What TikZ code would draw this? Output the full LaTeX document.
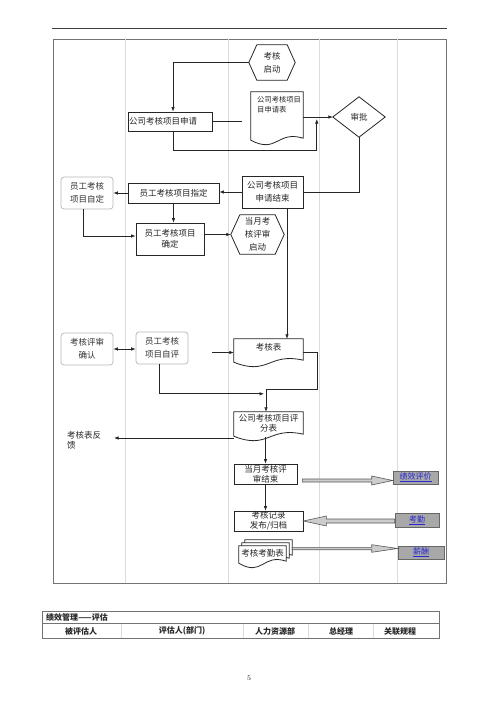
\documentclass[tikz,border=0pt]{standalone}
\usepackage{fontspec}
\newfontfamily\cjk{Noto Sans CJK SC}
\usetikzlibrary{arrows.meta,calc}
\definecolor{lanegray}{gray}{0.86}
\definecolor{softgray}{gray}{0.72}
\definecolor{linkfill}{gray}{0.66}
\definecolor{arrfill}{gray}{0.80}
\definecolor{linkblue}{RGB}{40,40,210}
\newcommand\fs[2]{\fontsize{#1}{#2}\selectfont}
\newcommand\hexdraw[2]{\draw[shapeline] (#1.west) -- ($(#1.north west)+(#2,0)$) -- ($(#1.north east)+(-#2,0)$) -- (#1.east) -- ($(#1.south east)+(-#2,0)$) -- ($(#1.south west)+(#2,0)$) -- cycle;}
\newcommand\diadraw[1]{\draw[shapeline] (#1.west) -- (#1.north) -- (#1.east) -- (#1.south) -- cycle;}
\newcommand\docdraw[3]{\filldraw[shapeline,fill=white] ($(#1.south west)+(#2,#3)+(0,-4)$) -- ($(#1.north west)+(#2,#3)$) -- ($(#1.north east)+(#2,#3)$) -- ($(#1.south east)+(#2,#3)+(0,-6)$) .. controls ($(#1.south)+(#2,#3)+(0,-14)$) and ($(#1.south)+(#2,#3)+(0,10)$) .. ($(#1.south west)+(#2,#3)+(0,-4)$) -- cycle;}
\newcommand\blockarrow[5]{\path[blockarr] let \p1=(#1), \p2=(#2) in ({\x1},{\y1+#4}) -- ({\x2-(#3)},{\y1+#4}) -- ({\x2-(#3)},{\y1+#5}) -- ({\x2},{\y1}) -- ({\x2-(#3)},{\y1-#5}) -- ({\x2-(#3)},{\y1-#4}) -- ({\x1},{\y1-#4}) -- cycle;}
\tikzset{
  shapeline/.style={draw=black!85, line width=0.8pt},
  boxnode/.style={draw=black!85, line width=0.8pt, inner sep=0pt, align=center, text=black!85, font=\cjk\fs{8.5}{13}},
  softnode/.style={draw=softgray, line width=0.7pt, rounded corners=3pt, inner sep=0pt, align=center, text=black!80, font=\cjk\fs{8.5}{13}},
  txtnode/.style={inner sep=0pt, align=center, text=black!85, font=\cjk\fs{8.5}{13}},
  shapeholder/.style={inner sep=0pt},
  conn/.style={draw=black!85, line width=0.7pt},
  arr/.style={conn, -{Latex[length=4.5pt,width=3.5pt]}},
  dblarr/.style={conn, {Latex[length=4.5pt,width=3.5pt]}-{Latex[length=4.5pt,width=3.5pt]}},
  blockarr/.style={draw=black!65, fill=arrfill, line width=0.6pt},
  linknode/.style={draw=black!60, fill=linkfill, line width=0.6pt, inner sep=0pt, font=\cjk\fs{8}{10}, text=linkblue},
  tableline/.style={draw=black!55, line width=0.7pt},
  tabhead/.style={inner sep=0pt, text=black!85, font=\cjk\bfseries\fs{8}{10}},
}
\begin{document}
\begin{tikzpicture}[x=1pt,y=-1pt]
\useasboundingbox (0,0) rectangle (500,707);
\fill[white] (0,0) rectangle (500,707);
% page rule and frame
\draw[line width=0.8pt, black!75] (52,28) -- (447,28);
\draw[line width=0.9pt, black!55] (53,39) rectangle (446,583);
\foreach \x in {125,228,319,397} \draw[lanegray, line width=0.6pt] (\x,39) -- (\x,583);

% nodes
\node[txtnode, minimum width=46pt, minimum height=35pt] (start) at (272,62.5) {考核\\启动};
\hexdraw{start}{8}
\node[boxnode, text width=82pt, align=left, inner xsep=1pt, minimum height=19pt, font=\cjk\fs{8.5}{10}] (apply) at (170,121.5) {公司考核项目申请};
\node[shapeholder, minimum width=52pt, minimum height=52pt] (appform) at (277,118) {};
\docdraw{appform}{0}{0}
\node[txtnode, anchor=north west, align=left, font=\cjk\fs{7.3}{10}] (appformtext) at (257,96) {公司考核项目\\目申请表};
\node[txtnode, minimum width=52pt, minimum height=40pt] (approve) at (359,117) {审批};
\diadraw{approve}
\node[boxnode, minimum width=61pt, minimum height=32pt] (appdone) at (272.5,192) {公司考核项目\\申请结束};
\node[boxnode, minimum width=91pt, minimum height=20pt] (assign) at (173.5,193) {员工考核项目指定};
\node[softnode, minimum width=52pt, minimum height=32pt] (self) at (87,193) {员工考核\\项目自定};
\node[boxnode, minimum width=68pt, minimum height=32pt, font=\cjk\fs{8.5}{11}] (confirm) at (170,239) {员工考核项目\\确定};
\node[txtnode, minimum width=53pt, minimum height=39pt] (monthstart) at (257.5,234.5) {当月考\\核评审\\启动};
\hexdraw{monthstart}{9}
\node[softnode, minimum width=52pt, minimum height=32pt] (reviewconf) at (87,349) {考核评审\\确认};
\node[softnode, minimum width=52pt, minimum height=32pt] (selfeval) at (162,348) {员工考核\\项目自评};
\node[shapeholder, minimum width=69pt, minimum height=27pt] (ktable) at (268.5,352.5) {};
\docdraw{ktable}{0}{0}
\node[txtnode] (ktabletext) at (268.5,347) {考核表};
\node[shapeholder, minimum width=69pt, minimum height=28pt] (score) at (268.5,426) {};
\docdraw{score}{0}{0}
\node[txtnode, font=\cjk\fs{8.5}{10}] (scoretext) at (268.5,423) {公司考核项目评\\分表};
\node[txtnode, anchor=north west, align=left, font=\cjk\fs{8.5}{10}] (feedback) at (67,431) {考核表反\\馈};
\node[boxnode, minimum width=63pt, minimum height=20pt, font=\cjk\fs{8.5}{10}] (monthend) at (265.5,474) {当月考核评\\审结束};
\node[boxnode, minimum width=69pt, minimum height=20pt, font=\cjk\fs{8.5}{10}] (publish) at (268.5,521) {考核记录\\发布/归档};
\node[shapeholder, minimum width=47pt, minimum height=21pt] (attdoc) at (262.5,556.5) {};
\docdraw{attdoc}{6}{-6}
\docdraw{attdoc}{3}{-3}
\docdraw{attdoc}{0}{0}
\node[txtnode, font=\cjk\fs{8.5}{10}] (attdoctext) at (262.5,553) {考核考勤表};
\node[linknode, minimum width=45pt, minimum height=13pt] (kpi) at (415.5,477.5) {\underline{绩效评价}};
\node[linknode, minimum width=44pt, minimum height=14pt] (attend) at (417,520) {\underline{考勤}};
\node[linknode, minimum width=46pt, minimum height=13pt] (salary) at (421,552.5) {\underline{薪酬}};

% connectors
\draw[arr] (start.west) -| ($(apply.north)+(3,0)$);
\draw[conn] (apply.east) -- ++(30,0);
\draw[arr] (appform.east |- approve.west) -- (approve.west);
\draw[arr] ($(apply.south)+(3,0)$) -- ++(0,19) -| ($(approve.west)+(-16,2)$);
\draw[conn] (approve.south) |- (appdone.east);
\draw[arr] (appdone.west) -- (appdone.west -| assign.east);
\draw[arr] (assign.west) -- (assign.west -| self.east);
\draw[arr] (assign.south) -- (assign.south |- confirm.north);
\draw[arr] ($(self.south)+(-4,0)$) |- ($(confirm.west)+(0,-3)$);
\draw[arr] (confirm.east |- monthstart.west) -- (monthstart.west);
\coordinate (c1) at ($(appdone.south)+(14.5,0)$);
\draw[arr] (c1) -- (c1 |- ktable.north);
\draw[arr] ($(ktable.west)+(-22,0)$) -- (ktable.west);
\coordinate (merge) at ($(score.north)+(-2.5,-22)$);
\draw[arr] (ktable.east) -- ++(14,0) |- (merge) -- (merge |- score.north);
\draw[arr] ($(selfeval.south)+(-3,0)$) |- ($(merge)+(-2,4)$);
\draw[dblarr] (reviewconf.east) -- (reviewconf.east -| selfeval.west);
\coordinate (fbend) at ($(feedback.north west)+(47,7)$);
\draw[arr] (fbend -| score.west) -- (fbend);
\coordinate (c2) at ($(score.south)+(-3,-3)$);
\draw[arr] (c2) -- (c2 |- monthend.north);
\draw[arr] (monthend.south) -- (monthend.south |- publish.north);

% block arrows
\coordinate (ba1) at ($(monthend.east)+(5,6.5)$);
\blockarrow{ba1}{kpi.west}{21pt}{1.5pt}{4.5pt}
\coordinate (ba2) at ($(attend.west)+(0,1)$);
\blockarrow{ba2}{publish.east}{-23pt}{2pt}{5pt}
\coordinate (ba3) at ($(attdoc.east)+(6,-8)$);
\blockarrow{ba3}{salary.west}{26pt}{1.2pt}{3.8pt}

% table
\draw[tableline] (42,611) rectangle (439,638);
\draw[tableline] (42,623.5) -- (439,623.5);
\foreach \x in {121,243,308,373} \draw[lanegray, line width=0.6pt] (\x,623.5) -- (\x,638);
\node[tabhead, anchor=west] (tabtitle) at (46,617.5) {绩效管理——评估};
\node[tabhead] (th1) at (81,631) {被评估人};
\node[tabhead] (th2) at (182,631) {评估人(部门)};
\node[tabhead] (th3) at (275,631) {人力资源部};
\node[tabhead] (th4) at (341,631) {总经理};
\node[tabhead] (th5) at (400,631) {关联规程};
\node[inner sep=0pt, font=\fs{7}{8}] (pagenum) at (249,678) {5};
\end{tikzpicture}
\end{document}
